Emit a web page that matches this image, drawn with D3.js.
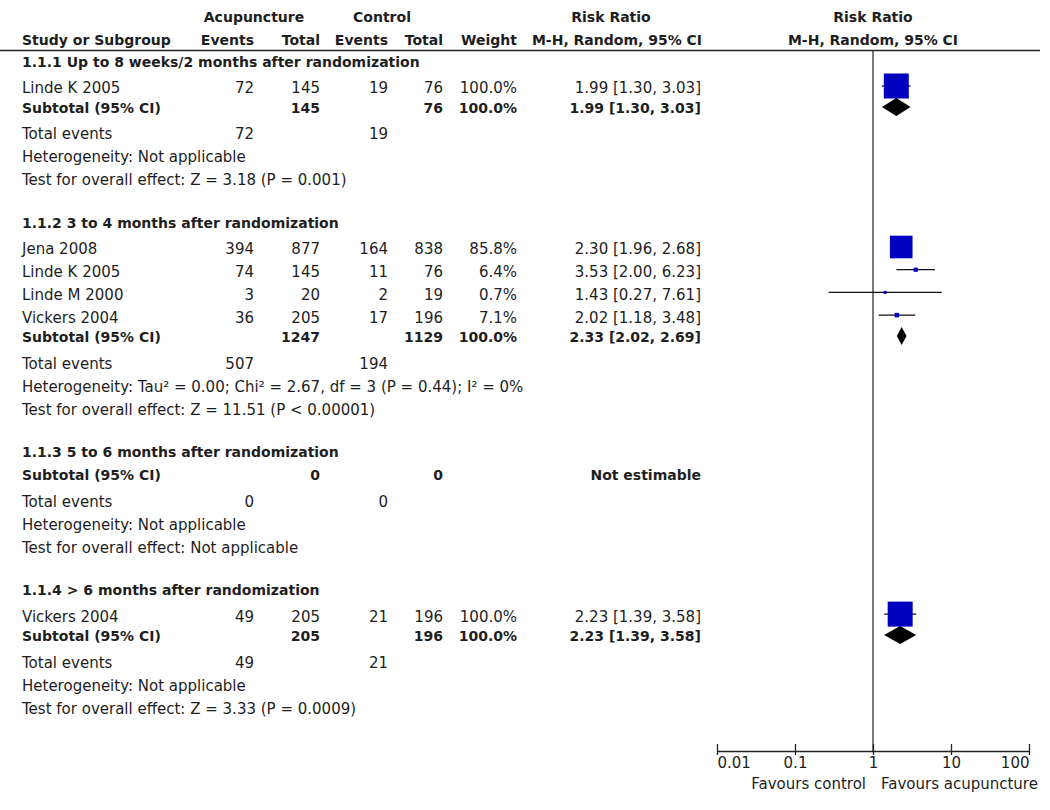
<!DOCTYPE html>
<html><head><meta charset="utf-8">
<script src="https://cdn.jsdelivr.net/npm/d3@7"></script>
<style>
body{margin:0;background:#fff}
text{font-family:"DejaVu Sans",Verdana,sans-serif;font-size:15px;fill:#1e1e1e}
.b{font-weight:bold;font-size:14px}
</style>
</head><body><svg id="c" width="1050" height="810"></svg>
<script>
// ---------- data ----------
const subgroupTitles = [
  "1.1.1 Up to 8 weeks/2 months after randomization",
  "1.1.2 3 to 4 months after randomization",
  "1.1.3 5 to 6 months after randomization",
  "1.1.4 > 6 months after randomization"
];
const studyGroup  = [0, 1, 1, 1, 1, 3];
const studyNames  = ["Linde K 2005", "Jena 2008", "Linde K 2005", "Linde M 2000", "Vickers 2004", "Vickers 2004"];
const acuEvents   = [72, 394, 74, 3, 36, 49];
const acuTotal    = [145, 877, 145, 20, 205, 205];
const ctlEvents   = [19, 164, 11, 2, 17, 21];
const ctlTotal    = [76, 838, 76, 19, 196, 196];
const studyWeight = [100.0, 85.8, 6.4, 0.7, 7.1, 100.0];
const studyRR     = [1.99, 2.30, 3.53, 1.43, 2.02, 2.23];
const studyLo     = [1.30, 1.96, 2.00, 0.27, 1.18, 1.39];
const studyHi     = [3.03, 2.68, 6.23, 7.61, 3.48, 3.58];

const subAcuTotal = [145, 1247, 0, 205];
const subCtlTotal = [76, 1129, 0, 196];
const subWeight   = [100.0, 100.0, null, 100.0];
const subRR       = [1.99, 2.33, null, 2.23];
const subLo       = [1.30, 2.02, null, 1.39];
const subHi       = [3.03, 2.69, null, 3.58];
const totEventsAcu = [72, 507, 0, 49];
const totEventsCtl = [19, 194, 0, 21];
const heterogeneity = [
  "Heterogeneity: Not applicable",
  "Heterogeneity: Tau\u00B2 = 0.00; Chi\u00B2 = 2.67, df = 3 (P = 0.44); I\u00B2 = 0%",
  "Heterogeneity: Not applicable",
  "Heterogeneity: Not applicable"
];
const overallEffect = [
  "Test for overall effect: Z = 3.18 (P = 0.001)",
  "Test for overall effect: Z = 11.51 (P < 0.00001)",
  "Test for overall effect: Not applicable",
  "Test for overall effect: Z = 3.33 (P = 0.0009)"
];
const axisTicks = [0.01, 0.1, 1, 10, 100];
const axisTickLabels = ["0.01", "0.1", "1", "10", "100"];
const favoursLeft = "Favours control";
const favoursRight = "Favours acupuncture";

// ---------- layout ----------
const svg = d3.select("#c");
const X = {name: 22, ae: 254, at: 320, ce: 388, ct: 443, w: 517, rr: 701};
const x = d3.scaleLog().domain([0.01, 100]).range([717, 1029]);
const side = d3.scalePow().exponent(0.65).domain([0, 100]).range([0, 25]);
const fmtW = v => d3.format(".1f")(v) + "%";
const fmtRR = (r, l, h) => `${r.toFixed(2)} [${l.toFixed(2)}, ${h.toFixed(2)}]`;

function txt(xp, yp, s, anchor, bold) {
  svg.append("text").attr("x", xp).attr("y", yp).attr("dy", "0.36em")
    .attr("text-anchor", anchor || "start").attr("class", bold ? "b" : null).text(s);
}

// header
txt(254, 17, "Acupuncture", "middle", true);
txt(382, 17, "Control", "middle", true);
txt(611, 17, "Risk Ratio", "middle", true);
txt(873, 17, "Risk Ratio", "middle", true);
txt(X.name, 40, "Study or Subgroup", "start", true);
txt(X.ae, 40, "Events", "end", true);
txt(X.at, 40, "Total", "end", true);
txt(X.ce, 40, "Events", "end", true);
txt(X.ct, 40, "Total", "end", true);
txt(X.w, 40, "Weight", "end", true);
txt(617, 40, "M-H, Random, 95% CI", "middle", true);
txt(873, 40, "M-H, Random, 95% CI", "middle", true);
svg.append("line").attr("x1", 0).attr("x2", 1040).attr("y1", 50.5).attr("y2", 50.5)
  .attr("stroke", "#222").attr("stroke-width", 1.5);

// axis
const axisY = 751;
svg.append("line").attr("x1", x(1)).attr("x2", x(1)).attr("y1", 51).attr("y2", axisY)
  .attr("stroke", "#333").attr("stroke-width", 1.3);
const ax = svg.append("g").attr("transform", `translate(0,${axisY})`)
  .call(d3.axisBottom(x).tickValues(axisTicks).tickFormat((d, i) => axisTickLabels[i]).tickSizeOuter(0));
ax.select(".domain").attr("stroke", "#222").attr("stroke-width", 1.3);
ax.selectAll(".tick line").attr("y1", -7).attr("y2", 4).attr("stroke", "#222").attr("stroke-width", 1.3);
ax.selectAll(".tick text").attr("y", 12).attr("dy", "0.36em")
  .style("font-family", '"DejaVu Sans",Verdana,sans-serif').style("font-size", "15px").attr("fill", "#1e1e1e")
  .attr("text-anchor", (d, i) => i === 0 ? "start" : (i === axisTicks.length - 1 ? "end" : "middle"));
txt(866, 784, favoursLeft, "end");
txt(881, 784, favoursRight, "start");

// body rows
let y = 62;
subgroupTitles.forEach((title, g) => {
  txt(X.name, y, title, "start", true);
  const idx = studyGroup.map((sg, i) => sg === g ? i : -1).filter(i => i >= 0);
  let ys = y + 26;
  let last = y;
  idx.forEach((i, k) => {
    const yy = ys + k * 22.7;
    last = yy;
    txt(X.name, yy, studyNames[i]);
    txt(X.ae, yy, acuEvents[i], "end");
    txt(X.at, yy, acuTotal[i], "end");
    txt(X.ce, yy, ctlEvents[i], "end");
    txt(X.ct, yy, ctlTotal[i], "end");
    txt(X.w, yy, fmtW(studyWeight[i]), "end");
    txt(X.rr, yy, fmtRR(studyRR[i], studyLo[i], studyHi[i]), "end");
    const cy = yy - 2;
    svg.append("line").attr("x1", x(studyLo[i])).attr("x2", x(studyHi[i]))
      .attr("y1", cy).attr("y2", cy).attr("stroke", "#111").attr("stroke-width", 1.3);
    const s = Math.max(3, side(studyWeight[i]));
    svg.append("rect").attr("x", x(studyRR[i]) - s / 2).attr("y", cy - s / 2)
      .attr("width", s).attr("height", s).attr("fill", "#0000C0");
  });
  const sy = idx.length ? last + 20 : y + 23;
  txt(X.name, sy, "Subtotal (95% CI)", "start", true);
  txt(X.at, sy, subAcuTotal[g], "end", true);
  txt(X.ct, sy, subCtlTotal[g], "end", true);
  if (subRR[g] != null) {
    txt(X.w, sy, fmtW(subWeight[g]), "end", true);
    txt(X.rr, sy, fmtRR(subRR[g], subLo[g], subHi[g]), "end", true);
    const cy = sy - 1, h = 9;
    svg.append("path")
      .attr("d", `M${x(subLo[g])},${cy} L${x(subRR[g])},${cy - h} L${x(subHi[g])},${cy} L${x(subRR[g])},${cy + h} Z`)
      .attr("fill", "#000");
  } else {
    txt(X.rr, sy, "Not estimable", "end", true);
  }
  const ty = sy + 26;
  txt(X.name, ty, "Total events");
  txt(X.ae, ty, totEventsAcu[g], "end");
  txt(X.ce, ty, totEventsCtl[g], "end");
  txt(X.name, ty + 23, heterogeneity[g]);
  txt(X.name, ty + 46, overallEffect[g]);
  y = ty + 46 + 43;
});
</script>
</body></html>
